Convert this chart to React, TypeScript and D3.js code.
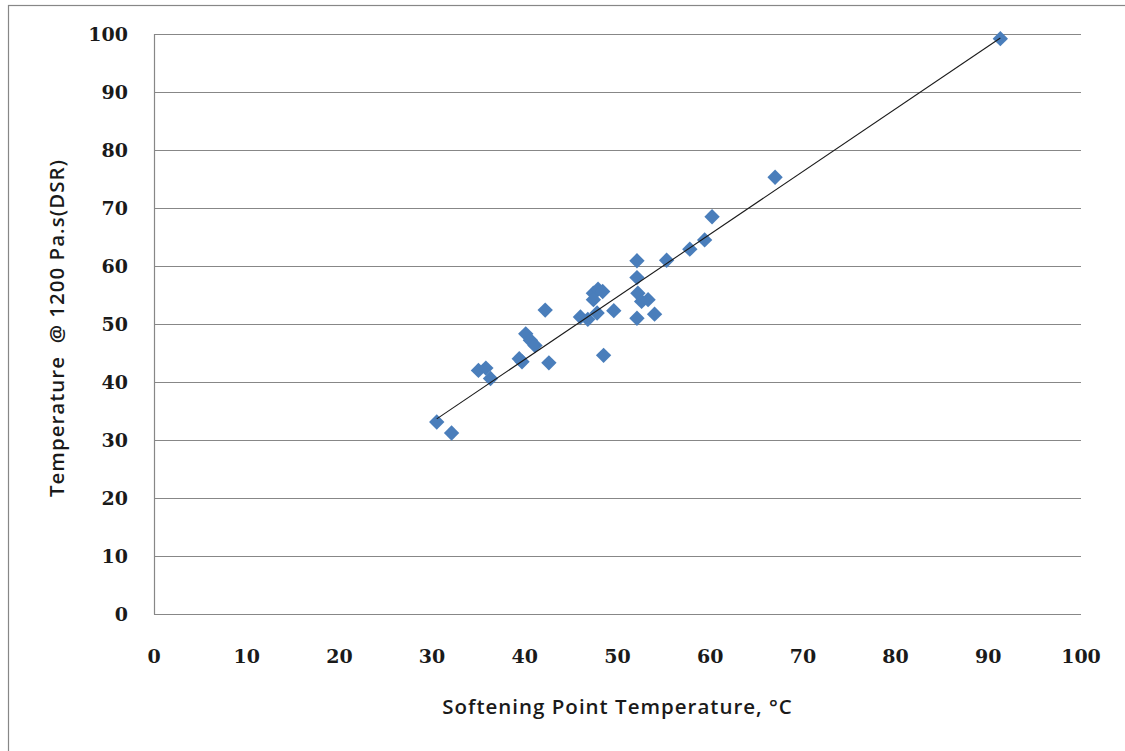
import React from "react";
import * as d3 from "d3";

// Softening point (°C) vs. temperature at 1200 Pa.s from DSR
const softeningPoint = [
  30.5, 32.1, 35.0, 35.8, 36.3, 39.4, 39.7, 40.1, 40.6, 41.1,
  42.2, 42.6, 46.0, 46.8, 47.4, 47.9, 47.4, 47.8, 48.4, 48.5,
  49.6, 52.1, 52.1, 52.2, 52.6, 53.3, 52.1, 54.0, 55.3, 57.8,
  59.4, 60.2, 67.0, 91.3,
];
const dsrTemperature = [
  33.1, 31.2, 42.0, 42.4, 40.6, 44.0, 43.5, 48.3, 47.2, 46.3,
  52.4, 43.3, 51.2, 50.8, 55.3, 56.0, 54.2, 51.9, 55.6, 44.6,
  52.3, 60.9, 58.0, 55.3, 53.9, 54.2, 51.0, 51.7, 61.0, 62.9,
  64.5, 68.5, 75.3, 99.2,
];
// linear trend line: T = slope * SP + intercept
const trendSlope = 1.08;
const trendIntercept = 0.7;

const xTicks = [0, 10, 20, 30, 40, 50, 60, 70, 80, 90, 100];
const yTicks = [0, 10, 20, 30, 40, 50, 60, 70, 80, 90, 100];

const xTitle = "Softening Point Temperature, °C";
const yTitle = "Temperature  @ 1200 Pa.s(DSR)";

const W = 1125;
const H = 751;
const plot = { left: 154, right: 1081, top: 34, bottom: 614 };

const gridColor = "#878787";
const markerColor = "#4a7ebb";
const tickFont = "'DejaVu Serif', serif";
const titleFont = "'Open Sans', Lato, sans-serif";

export default function App() {
  const x = d3.scaleLinear().domain([0, 100]).range([plot.left, plot.right]);
  const y = d3.scaleLinear().domain([0, 100]).range([plot.bottom, plot.top]);

  const points = softeningPoint.map((sp, i) => ({ sp, t: dsrTemperature[i] }));
  const [xMin, xMax] = d3.extent(softeningPoint) as [number, number];
  const trend = d3
    .line<number>()
    .x((v) => x(v))
    .y((v) => y(trendIntercept + trendSlope * v))([xMin, xMax]);

  const diamond = d3.symbol(d3.symbolSquare, 118)() as string;

  return (
    <svg
      width={W}
      height={H}
      style={{ position: "absolute", left: 0, top: 0, display: "block", background: "#fff" }}
    >
      {/* chart frame */}
      <rect x={8.5} y={5.5} width={W + 10} height={H + 10} fill="#fff" stroke={gridColor} strokeWidth={1.2} />

      {/* horizontal gridlines */}
      {yTicks.map((t) => (
        <line
          key={"g" + t}
          x1={plot.left}
          x2={plot.right}
          y1={Math.round(y(t)) + 0.5}
          y2={Math.round(y(t)) + 0.5}
          stroke={gridColor}
          strokeWidth={1.2}
        />
      ))}
      {/* vertical axis line */}
      <line
        x1={plot.left + 0.5}
        x2={plot.left + 0.5}
        y1={plot.top}
        y2={plot.bottom + 0.5}
        stroke={gridColor}
        strokeWidth={1.2}
      />

      {/* y tick labels */}
      {yTicks.map((t) => (
        <text
          key={"yl" + t}
          x={128}
          y={y(t)}
          dy="0.36em"
          textAnchor="end"
          fontFamily={tickFont}
          fontWeight="bold"
          fontSize={19}
          fill="#1a1a1a"
        >
          {t}
        </text>
      ))}
      {/* x tick labels */}
      {xTicks.map((t) => (
        <text
          key={"xl" + t}
          x={x(t)}
          y={656}
          dy="0.36em"
          textAnchor="middle"
          fontFamily={tickFont}
          fontWeight="bold"
          fontSize={19}
          fill="#1a1a1a"
        >
          {t}
        </text>
      ))}

      {/* data points */}
      {points.map((p, i) => (
        <path
          key={"p" + i}
          d={diamond}
          transform={`translate(${x(p.sp)},${y(p.t)}) rotate(45)`}
          fill={markerColor}
        />
      ))}

      {/* trend line */}
      <path d={trend as string} fill="none" stroke="#1a1a1a" strokeWidth={1.1} />

      {/* axis titles */}
      <text
        x={(plot.left + plot.right) / 2}
        y={714}
        textAnchor="middle"
        fontFamily={titleFont}
        fontWeight={600}
        fontSize={20.5}
        letterSpacing={1}
        fill="#1a1a1a"
      >
        {xTitle}
      </text>
      <text
        transform={`translate(64,${(plot.top + plot.bottom) / 2 + 4}) rotate(-90)`}
        textAnchor="middle"
        fontFamily={titleFont}
        fontWeight={600}
        fontSize={20.5}
        letterSpacing={1}
        fill="#1a1a1a"
        style={{ whiteSpace: "pre" }}
      >
        {yTitle}
      </text>
    </svg>
  );
}
